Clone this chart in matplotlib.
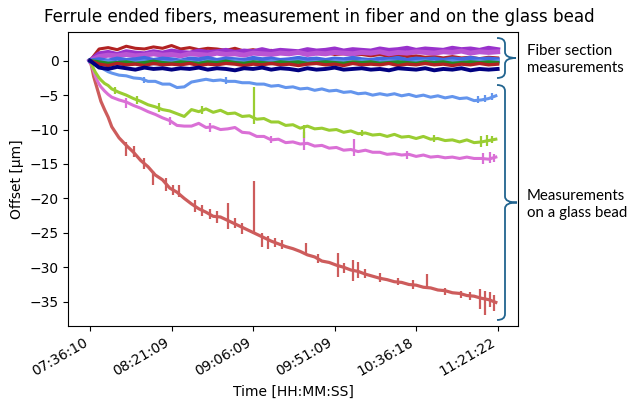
import matplotlib
matplotlib.use("Agg")
import matplotlib.pyplot as plt
from matplotlib.path import Path
from matplotlib.patches import PathPatch

# time axis (minutes after 07:36:10)
tick_pos = [0, 45, 90, 135, 180, 225]
tick_labels = ["07:36:10", "08:21:09", "09:06:09", "09:51:09", "10:36:18", "11:21:22"]

# --- measurements on a glass bead ---
t_bead = [0, 1, 2, 3, 4, 5, 6, 8, 10, 12, 16, 20, 24, 28, 32, 36, 40, 44, 48, 52,
          56, 60, 64, 68, 72, 76, 80, 84, 88, 92, 96, 100, 104, 108, 112, 116, 120, 124, 128, 132,
          136, 140, 144, 148, 152, 156, 160, 164, 168, 172, 176, 180, 184, 188, 192, 196, 200, 204, 208, 212,
          216, 220, 224]

bead_blue = [0.0, -0.2, -0.4, -0.5, -0.7, -0.8, -1.0, -1.3, -1.6, -1.8, -2.1, -2.2, -2.5, -2.6, -3.0, -3.0, -3.4, -3.4, -3.9, -3.8,
             -3.1, -2.9, -2.7, -2.9, -2.8, -3.0, -3.0, -3.2, -3.2, -3.4, -3.4, -3.7, -3.6, -3.9, -3.8, -4.1, -4.0, -4.3, -4.1, -4.4,
             -4.3, -4.6, -4.5, -4.8, -4.7, -5.0, -4.8, -5.0, -4.8, -5.1, -4.9, -5.2, -5.0, -5.3, -5.1, -5.4, -5.2, -5.5, -5.4, -5.8,
             -5.7, -5.5, -5.1]

bead_green = [0.0, -0.6, -1.2, -1.7, -2.1, -2.5, -2.8, -3.3, -3.6, -4.1, -4.6, -5.0, -5.5, -5.9, -6.4, -6.7, -7.1, -7.3, -7.7, -8.1,
              -7.1, -7.4, -7.0, -7.5, -7.2, -7.7, -7.6, -8.1, -8.0, -8.5, -8.4, -8.9, -8.9, -9.4, -9.3, -9.8, -9.5, -9.9, -9.8, -10.1,
              -10.0, -10.4, -10.2, -10.6, -10.5, -10.8, -10.7, -11.0, -10.7, -11.1, -11.0, -11.3, -11.0, -11.4, -11.3, -11.6, -11.5, -11.8, -11.5, -11.9,
              -11.8, -11.6, -11.4]

bead_violet = [0.0, -0.8, -1.5, -2.3, -2.9, -3.4, -3.8, -4.4, -4.9, -5.3, -5.7, -6.0, -6.5, -6.9, -7.4, -7.8, -8.3, -8.7, -9.4, -9.5,
               -9.5, -9.1, -9.7, -9.6, -10.0, -9.9, -9.7, -10.4, -10.5, -11.0, -11.0, -11.5, -11.4, -11.9, -11.8, -12.1, -12.0, -12.4, -12.3, -12.7,
               -12.6, -13.0, -12.9, -13.2, -13.0, -13.3, -13.3, -13.6, -13.5, -13.7, -13.6, -13.9, -13.7, -14.0, -13.9, -14.1, -14.0, -14.2, -14.0, -14.2,
               -14.2, -14.3, -14.0]

bead_red = [0.0, -1.0, -2.3, -3.2, -4.1, -5.0, -5.9, -7.1, -8.2, -9.6, -11.2, -12.3, -13.3, -14.5, -15.4, -16.6, -17.3, -18.5, -19.1, -20.0,
            -20.8, -21.5, -22.0, -22.6, -22.7, -23.2, -23.7, -24.2, -24.7, -25.2, -25.7, -26.2, -26.6, -27.0, -27.3, -27.7, -28.2, -28.5, -29.1, -29.3,
            -29.7, -30.0, -30.4, -30.6, -31.0, -31.3, -31.6, -31.8, -32.1, -32.2, -32.5, -32.6, -32.9, -33.0, -33.3, -33.4, -33.7, -33.8, -34.1, -34.2,
            -34.5, -34.7, -35.1]

# short spikes / outliers (time, low, high)
red_spike_t = [20, 24, 30, 35, 42, 46, 49, 58, 62, 66, 70, 76, 80, 84, 90.3, 95, 98, 102, 106, 119,
               126, 137, 140, 145, 148, 152, 160, 170, 178, 186, 196, 205, 210, 215, 218, 221, 223]
red_spike_lo = [-13.8, -14.0, -15.8, -18.0, -18.9, -19.5, -19.8, -22.0, -22.6, -23.0, -23.5, -24.5, -24.3, -25.2, -25.2, -27.0, -27.3, -27.1, -27.4, -28.0,
                -29.4, -31.4, -30.9, -32.0, -31.6, -31.5, -32.1, -32.6, -33.1, -32.8, -34.0, -34.5, -34.8, -36.0, -36.9, -35.8, -36.3]
red_spike_hi = [-11.8, -12.4, -14.1, -16.0, -17.0, -18.0, -18.0, -20.3, -21.0, -21.6, -21.9, -20.7, -22.9, -23.6, -17.5, -25.0, -25.5, -25.8, -26.1, -26.5,
                -28.1, -28.0, -29.4, -29.0, -29.2, -30.3, -30.9, -31.5, -31.9, -31.0, -33.0, -33.4, -33.6, -33.2, -33.5, -33.6, -34.0]

green_spike_t = [14, 26, 38, 62, 90.3, 118, 150, 190, 216, 219, 222]
green_spike_lo = [-4.9, -6.3, -7.5, -7.8, -9.2, -11.2, -11.0, -11.8, -12.5, -12.4, -12.0]
green_spike_hi = [-3.8, -5.2, -6.2, -6.6, -3.8, -9.3, -10.0, -10.8, -11.0, -10.8, -10.9]

violet_spike_t = [20, 44, 66, 100, 118, 145.5, 175, 217, 221, 223]
violet_spike_lo = [-6.8, -9.4, -10.3, -12.0, -13.0, -13.9, -14.3, -15.0, -14.8, -14.7]
violet_spike_hi = [-5.4, -8.2, -9.0, -10.9, -10.3, -11.4, -13.1, -13.4, -13.3, -13.6]

blue_spike_t = [30, 75, 214, 218, 222]
blue_spike_lo = [-3.3, -3.4, -6.1, -6.0, -5.7]
blue_spike_hi = [-2.3, -2.4, -5.2, -5.0, -4.7]

# --- fiber section measurements ---
t_fiber = [0, 5, 10, 15, 20, 25, 30, 35, 40, 45, 50, 55, 60, 65, 70, 75, 80, 85, 90, 95,
           100, 105, 110, 115, 120, 125, 130, 135, 140, 145, 150, 155, 160, 165, 170, 175, 180, 185, 190, 195,
           200, 205, 210, 215, 220, 225]

fiber_red_hi = [0.0, 1.7, 1.9, 1.6, 2.1, 1.8, 1.7, 2.0, 1.8, 2.2,
                1.7, 1.9, 1.6, 1.8, 1.7, 1.5, 1.8, 1.4, 1.6, 1.3,
                1.5, 1.2, 1.4, 1.1, 1.3, 1.0, 1.2, 0.9, 1.0, 0.8,
                0.9, 0.7, 0.9, 0.6, 0.8, 0.6, 0.7, 0.5, 0.6, 0.4,
                0.6, 0.4, 0.5, 0.3, 0.5, 0.4]
fiber_darkorchid = [0.0, 1.0, 1.2, 0.9, 1.3, 1.1, 1.0, 1.3, 1.1, 1.4,
                    1.2, 1.1, 1.4, 1.2, 1.3, 1.5, 1.2, 1.4, 1.3, 1.6,
                    1.3, 1.5, 1.4, 1.3, 1.6, 1.4, 1.5, 1.7, 1.4, 1.6,
                    1.5, 1.4, 1.7, 1.5, 1.6, 1.8, 1.5, 1.7, 1.6, 1.5,
                    1.8, 1.6, 1.7, 1.5, 1.8, 1.6]
fiber_orchid = [0.0, 0.6, 0.8, 0.7, 0.9, 0.7, 0.8, 1.0, 0.8, 0.9,
                0.7, 1.0, 0.9, 0.8, 1.1, 0.9, 1.0, 0.8, 1.1, 1.0,
                0.9, 1.1, 1.0, 1.2, 0.9, 1.1, 1.0, 1.2, 1.1, 1.0,
                1.2, 1.1, 1.3, 1.0, 1.2, 1.1, 1.3, 1.2, 1.1, 1.3,
                1.2, 1.4, 1.1, 1.3, 1.2, 1.3]
fiber_royal = [0.0, 0.2, 0.0, 0.3, 0.1, 0.2, 0.4, 0.1, 0.3, 0.2,
               0.0, 0.3, 0.2, 0.4, 0.1, 0.3, 0.2, 0.1, 0.4, 0.2,
               0.3, 0.1, 0.2, 0.4, 0.2, 0.3, 0.1, 0.3, 0.2, 0.4,
               0.2, 0.1, 0.3, 0.2, 0.4, 0.1, 0.3, 0.2, 0.3, 0.1,
               0.3, 0.2, 0.4, 0.2, 0.3, 0.2]
fiber_lightblue = [0.0, -0.3, -0.1, -0.4, -0.2, -0.3, -0.1, -0.4, -0.2, -0.3,
                   -0.1, -0.2, -0.4, -0.1, -0.3, -0.2, -0.1, -0.3, -0.2, -0.4,
                   -0.1, -0.3, -0.2, -0.1, -0.3, -0.2, -0.4, -0.1, -0.2, -0.3,
                   -0.1, -0.2, -0.3, -0.1, -0.2, -0.4, -0.2, -0.1, -0.3, -0.2,
                   -0.1, -0.3, -0.2, -0.1, -0.3, -0.1]
fiber_green = [0.0, -0.2, -0.4, -0.3, -0.2, -0.4, -0.3, -0.1, -0.3, -0.4,
               -0.2, -0.3, -0.4, -0.2, -0.3, -0.1, -0.3, -0.4, -0.2, -0.3,
               -0.4, -0.2, -0.3, -0.2, -0.4, -0.3, -0.2, -0.3, -0.4, -0.2,
               -0.3, -0.2, -0.4, -0.3, -0.2, -0.3, -0.4, -0.2, -0.3, -0.2,
               -0.4, -0.3, -0.2, -0.3, -0.2, -0.3]
fiber_red_lo = [0.0, -0.5, -0.7, -0.4, -0.6, -0.5, -0.7, -0.4, -0.6, -0.5,
                -0.6, -0.4, -0.7, -0.5, -0.6, -0.4, -0.5, -0.7, -0.5, -0.6,
                -0.4, -0.6, -0.5, -0.7, -0.5, -0.4, -0.6, -0.5, -0.7, -0.4,
                -0.6, -0.5, -0.6, -0.4, -0.7, -0.5, -0.6, -0.4, -0.6, -0.5,
                -0.7, -0.5, -0.6, -0.4, -0.6, -0.5]
fiber_navy = [0.0, -1.0, -1.2, -0.9, -1.1, -1.3, -1.0, -1.2, -1.1, -1.3,
              -1.1, -1.2, -1.0, -1.3, -1.1, -1.2, -1.4, -1.1, -1.2, -1.0,
              -1.3, -1.1, -1.2, -1.4, -1.1, -1.3, -1.2, -1.0, -1.3, -1.2,
              -1.1, -1.3, -1.2, -1.4, -1.1, -1.2, -1.3, -1.1, -1.4, -1.2,
              -1.3, -1.1, -1.4, -1.2, -1.3, -1.2]

W, H = 632, 399
fig = plt.figure(figsize=(W / 100, H / 100), dpi=100)
ax = fig.add_axes([68.3 / W, 1 - 326 / H, 450 / W, 294.3 / H])

bead = [
    (bead_red, "#cd5c5c", red_spike_t, red_spike_lo, red_spike_hi, 2.3),
    (bead_violet, "#da70d6", violet_spike_t, violet_spike_lo, violet_spike_hi, 2.2),
    (bead_green, "#9acd32", green_spike_t, green_spike_lo, green_spike_hi, 2.2),
    (bead_blue, "#6495ed", blue_spike_t, blue_spike_lo, blue_spike_hi, 2.2),
]
for vals, col, st, slo, shi, lw in bead:
    ax.plot(t_bead, vals, color=col, lw=lw)
    ax.vlines(st, slo, shi, color=col, lw=1.6)

fiber = [
    (fiber_red_hi, "#b22222", 2.2),
    (fiber_darkorchid, "#9932cc", 3.6),
    (fiber_orchid, "#ba55d3", 3.6),
    (fiber_royal, "#4169e1", 3.0),
    (fiber_lightblue, "#5b8fe6", 3.0),
    (fiber_green, "#228b22", 2.6),
    (fiber_red_lo, "#b22222", 2.4),
    (fiber_navy, "#000080", 2.8),
]
for vals, col, lw in fiber:
    ax.plot(t_fiber, vals, color=col, lw=lw)

ax.set_xlim(-12, 236.4)
ax.set_ylim(-38.53, 4.21)
ax.set_xticks(tick_pos)
ax.set_xticklabels(tick_labels, rotation=30, ha="right")
ax.set_yticks([0, -5, -10, -15, -20, -25, -30, -35])
ax.tick_params(labelsize=10)
ax.set_xlabel("Time [HH:MM:SS]", fontsize=10)
ax.set_ylabel("Offset [µm]", fontsize=10)

fig.text(319 / W, 1 - 17 / H, "Ferrule ended fibers, measurement in fiber and on the glass bead",
         ha="center", va="center", fontsize=12.1)


def brace(x_back, x_spine, x_tip, y_top, y_bot, color):
    ym = (y_top + y_bot) / 2
    r = 6
    pts = [(x_back, y_top), (x_spine, y_top), (x_spine, y_top + r),
           (x_spine, ym - r), (x_spine, ym), (x_tip, ym),
           (x_spine, ym), (x_spine, ym + r),
           (x_spine, y_bot - r), (x_spine, y_bot), (x_back, y_bot)]
    codes = [Path.MOVETO, Path.CURVE3, Path.CURVE3, Path.LINETO, Path.CURVE3, Path.CURVE3,
             Path.CURVE3, Path.CURVE3, Path.LINETO, Path.CURVE3, Path.CURVE3]
    verts = [(x / W, 1 - y / H) for x, y in pts]
    fig.add_artist(PathPatch(Path(verts, codes), transform=fig.transFigure,
                             fill=False, edgecolor=color, lw=1.3))


brace_col = "#21648f"
brace(497, 505, 516, 38, 78, brace_col)
brace(497, 505, 517, 85, 320, brace_col)

fig.text(527 / W, 1 - 44 / H, "Fiber section\nmeasurements", ha="left", va="top",
         fontsize=10.8, family="Lato", linespacing=1.3)
fig.text(527 / W, 1 - 189 / H, "Measurements\non a glass bead", ha="left", va="top",
         fontsize=10.8, family="Lato", linespacing=1.3)

fig.savefig("out.png", dpi=100)
plt.close(fig)
